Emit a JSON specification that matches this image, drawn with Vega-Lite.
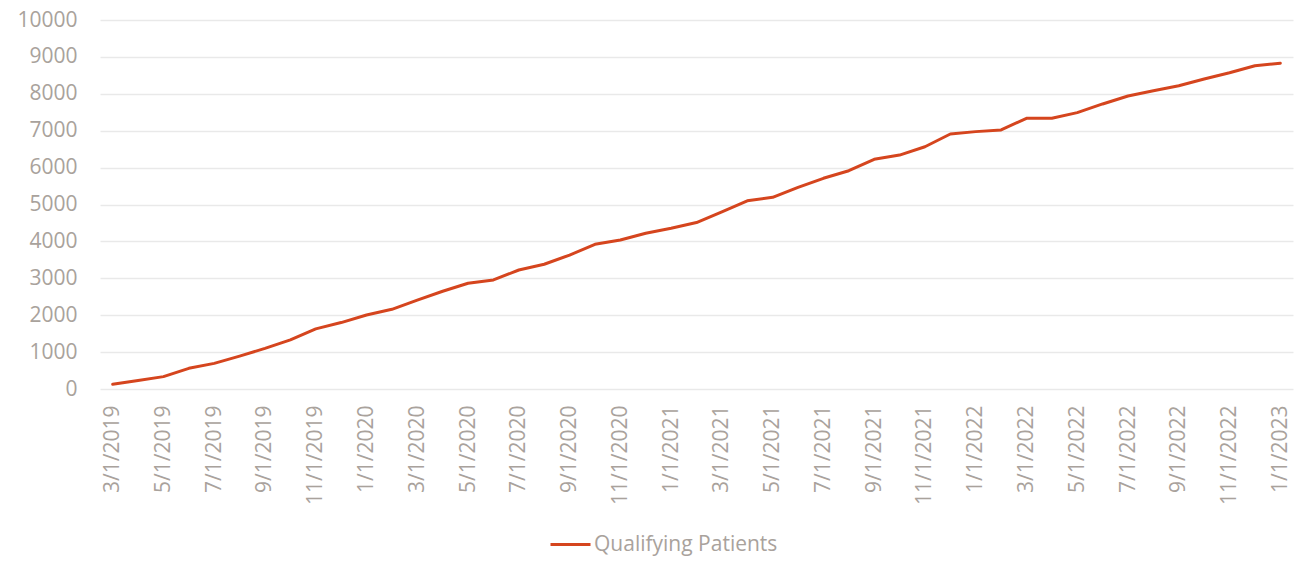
{
  "$schema": "https://vega.github.io/schema/vega-lite/v6.json",
  "width": 1193,
  "height": 369,
  "autosize": {"type": "none"},
  "padding": {"left": 100, "top": 20, "right": 19, "bottom": 177},
  "background": "#FFFFFF",
  "config": {
    "view": {"stroke": null},
    "font": "Open Sans",
    "axis": {"labelFont": "Open Sans", "labelColor": "#A9A29C", "labelFontSize": 21}
  },
  "data": {
    "values": [
      {"date": "3/1/2019", "value": 130, "series": "Qualifying Patients"},
      {"date": "4/1/2019", "value": 230, "series": "Qualifying Patients"},
      {"date": "5/1/2019", "value": 335, "series": "Qualifying Patients"},
      {"date": "6/1/2019", "value": 560, "series": "Qualifying Patients"},
      {"date": "7/1/2019", "value": 695, "series": "Qualifying Patients"},
      {"date": "8/1/2019", "value": 890, "series": "Qualifying Patients"},
      {"date": "9/1/2019", "value": 1100, "series": "Qualifying Patients"},
      {"date": "10/1/2019", "value": 1330, "series": "Qualifying Patients"},
      {"date": "11/1/2019", "value": 1630, "series": "Qualifying Patients"},
      {"date": "12/1/2019", "value": 1800, "series": "Qualifying Patients"},
      {"date": "1/1/2020", "value": 2005, "series": "Qualifying Patients"},
      {"date": "2/1/2020", "value": 2160, "series": "Qualifying Patients"},
      {"date": "3/1/2020", "value": 2410, "series": "Qualifying Patients"},
      {"date": "4/1/2020", "value": 2650, "series": "Qualifying Patients"},
      {"date": "5/1/2020", "value": 2865, "series": "Qualifying Patients"},
      {"date": "6/1/2020", "value": 2955, "series": "Qualifying Patients"},
      {"date": "7/1/2020", "value": 3225, "series": "Qualifying Patients"},
      {"date": "8/1/2020", "value": 3380, "series": "Qualifying Patients"},
      {"date": "9/1/2020", "value": 3630, "series": "Qualifying Patients"},
      {"date": "10/1/2020", "value": 3920, "series": "Qualifying Patients"},
      {"date": "11/1/2020", "value": 4040, "series": "Qualifying Patients"},
      {"date": "12/1/2020", "value": 4220, "series": "Qualifying Patients"},
      {"date": "1/1/2021", "value": 4355, "series": "Qualifying Patients"},
      {"date": "2/1/2021", "value": 4510, "series": "Qualifying Patients"},
      {"date": "3/1/2021", "value": 4800, "series": "Qualifying Patients"},
      {"date": "4/1/2021", "value": 5100, "series": "Qualifying Patients"},
      {"date": "5/1/2021", "value": 5195, "series": "Qualifying Patients"},
      {"date": "6/1/2021", "value": 5465, "series": "Qualifying Patients"},
      {"date": "7/1/2021", "value": 5710, "series": "Qualifying Patients"},
      {"date": "8/1/2021", "value": 5915, "series": "Qualifying Patients"},
      {"date": "9/1/2021", "value": 6225, "series": "Qualifying Patients"},
      {"date": "10/1/2021", "value": 6340, "series": "Qualifying Patients"},
      {"date": "11/1/2021", "value": 6565, "series": "Qualifying Patients"},
      {"date": "12/1/2021", "value": 6910, "series": "Qualifying Patients"},
      {"date": "1/1/2022", "value": 6975, "series": "Qualifying Patients"},
      {"date": "2/1/2022", "value": 7020, "series": "Qualifying Patients"},
      {"date": "3/1/2022", "value": 7335, "series": "Qualifying Patients"},
      {"date": "4/1/2022", "value": 7335, "series": "Qualifying Patients"},
      {"date": "5/1/2022", "value": 7490, "series": "Qualifying Patients"},
      {"date": "6/1/2022", "value": 7725, "series": "Qualifying Patients"},
      {"date": "7/1/2022", "value": 7940, "series": "Qualifying Patients"},
      {"date": "8/1/2022", "value": 8085, "series": "Qualifying Patients"},
      {"date": "9/1/2022", "value": 8220, "series": "Qualifying Patients"},
      {"date": "10/1/2022", "value": 8400, "series": "Qualifying Patients"},
      {"date": "11/1/2022", "value": 8570, "series": "Qualifying Patients"},
      {"date": "12/1/2022", "value": 8760, "series": "Qualifying Patients"},
      {"date": "1/1/2023", "value": 8830, "series": "Qualifying Patients"}
    ]
  },
  "mark": {"type": "line", "strokeWidth": 3, "strokeJoin": "round", "strokeCap": "round"},
  "encoding": {
    "x": {
      "field": "date",
      "type": "ordinal",
      "sort": null,
      "scale": {"type": "point", "padding": 0.5},
      "axis": {
        "title": null,
        "values": ["3/1/2019", "5/1/2019", "7/1/2019", "9/1/2019", "11/1/2019", "1/1/2020", "3/1/2020", "5/1/2020", "7/1/2020", "9/1/2020", "11/1/2020", "1/1/2021", "3/1/2021", "5/1/2021", "7/1/2021", "9/1/2021", "11/1/2021", "1/1/2022", "3/1/2022", "5/1/2022", "7/1/2022", "9/1/2022", "11/1/2022", "1/1/2023"],
        "labelAngle": -90,
        "labelPadding": 16,
        "ticks": false,
        "domain": false,
        "grid": false
      }
    },
    "y": {
      "field": "value",
      "type": "quantitative",
      "scale": {"domain": [0, 10000], "nice": false},
      "axis": {
        "title": null,
        "values": [0, 1000, 2000, 3000, 4000, 5000, 6000, 7000, 8000, 9000, 10000],
        "format": "d",
        "ticks": false,
        "domain": false,
        "labelPadding": 23,
        "gridColor": "#E9E9E9",
        "gridWidth": 1.5
      }
    },
    "color": {
      "field": "series",
      "type": "nominal",
      "scale": {"range": ["#D5451E"]},
      "legend": {
        "title": null,
        "orient": "none",
        "legendX": 449,
        "legendY": 503,
        "direction": "horizontal",
        "symbolType": "stroke",
        "symbolSize": 1600,
        "symbolStrokeWidth": 3,
        "labelFontSize": 21,
        "labelFont": "Open Sans",
        "labelColor": "#A9A29C",
        "labelOffset": 2,
        "labelLimit": 400
      }
    }
  }
}
